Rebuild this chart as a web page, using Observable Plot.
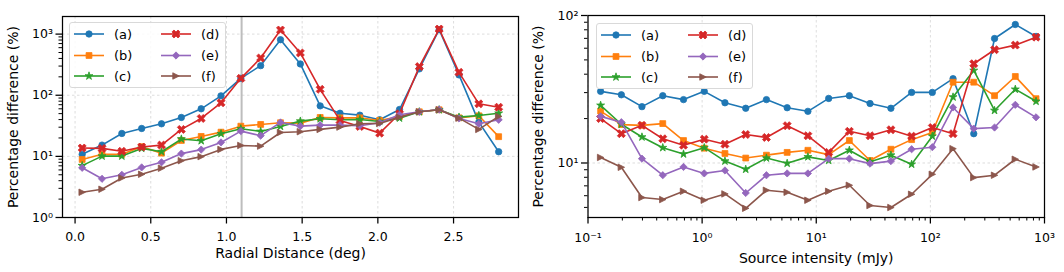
<!DOCTYPE html>
<html><head><meta charset="utf-8">
<script src="https://cdn.jsdelivr.net/npm/d3@7"></script>
<script src="https://cdn.jsdelivr.net/npm/@observablehq/plot@0.6"></script>
<style>
html,body{margin:0;padding:0;background:#fff;}
#wrap{position:relative;width:1064px;height:272px;font-family:"DejaVu Sans",sans-serif;overflow:hidden;}
.panel{position:absolute;top:0;}
.legend{position:absolute;border:1px solid #d9d9d9;border-radius:3px;background:rgba(255,255,255,0.85);box-sizing:border-box;}
.legend svg{display:block;}
</style></head><body><div id="wrap"></div>
<script>
// ---------- data ----------
const seriesLabels = ["(a)","(b)","(c)","(d)","(e)","(f)"];
const seriesColors = ["#1f77b4","#ff7f0e","#2ca02c","#d62728","#9467bd","#8c564b"];

// left panel: radial distance (deg)
const radialDistance = [0.047,0.178,0.309,0.440,0.571,0.702,0.833,0.964,1.095,1.226,1.357,1.488,1.619,1.750,1.881,2.012,2.143,2.274,2.405,2.536,2.667,2.798];
const radA = [10.8,15.3,23.7,28.6,34.1,43.3,60,97.8,189,305,810,325,67,50.8,47.2,39.7,58.4,270,1180,215,36.3,11.9];
const radB = [8.9,10.8,10.8,14.4,11.3,18.2,21.2,24.9,31.2,33.3,35.5,35,43.3,42.7,42.7,38.7,45,53.6,57.8,42.7,46.1,21];
const radC = [7.05,10.1,10.1,13.5,11.9,19.2,18,23.5,28.3,25.6,30.9,37.7,41.2,39.7,40,37.2,42.2,53.6,57.8,43.8,46.6,50.8];
const radD = [13.7,13.5,12.1,14.2,15.3,27.6,41.7,75.2,189,407,1167,492,125,38.7,30.9,24,49.7,294,1211,237,72.4,63.7];
const radE = [6.5,4.3,5.0,6.6,8.0,11.1,12.9,16.9,25.9,21.8,35.9,31.2,32.4,32.4,31.7,35.5,47.9,53.6,58.4,41.7,34.1,39.7];
const radF = [2.59,2.9,4.43,5.1,6.4,8.5,9.9,13,15.1,14.7,24.6,25.3,27.6,30.1,34.1,34.6,43.8,53.6,57.8,42.2,27.6,45];
const radialMarker = [1.1];

// right panel: source intensity (mJy)
const intensity = [0.129,0.196,0.297,0.452,0.687,1.044,1.585,2.41,3.66,5.56,8.45,12.85,19.5,29.6,45.1,68.5,104,158,240,365,555,843];
const intA = [30.6,29.0,24.1,28.6,26.9,30.6,25.6,23.5,26.9,23.7,22.4,27.4,28.6,25.3,23.5,30.1,30.1,37.3,15.8,69.8,86.9,72.1];
const intB = [22.5,18.2,18.0,18.5,14.2,12.6,11.6,10.8,11.3,11.8,12.2,11.4,14.2,10.4,12.4,14.4,16.1,35.3,35.3,28.6,38.6,27.3];
const intC = [24.6,18.3,15.0,12.7,11.5,12.7,10.3,9.06,10.8,9.95,11.0,10.4,12.2,10.2,11.3,9.8,15.2,28.0,42.4,22.7,31.6,26.2];
const intD = [20.0,15.8,18.0,14.6,13.2,14.5,13.4,15.6,14.9,17.9,15.3,11.8,16.4,15.3,16.8,15.2,17.4,15.8,47.1,58.6,63.0,71.3];
const intE = [20.7,18.9,10.7,8.26,9.4,8.5,8.9,6.26,8.26,8.5,8.5,10.7,10.7,9.9,10.3,12.4,12.8,23.8,17.1,17.4,24.8,20.4];
const intF = [10.9,9.35,5.83,5.65,6.43,5.59,6.17,4.93,6.53,6.33,5.59,6.43,7.06,5.15,4.99,6.14,8.38,12.5,7.96,8.26,10.6,9.4];

// tick values
const leftXTicks = [0,0.5,1,1.5,2,2.5];
const leftYTicks = [1,10,100,1000];
const rightXTicks = [0.1,1,10,100,1000];
const rightYTicks = [10,100];

// ---------- helpers ----------
function minorTicks(lo, hi) {
  const out = [];
  for (let e = Math.floor(Math.log10(lo)); e <= Math.ceil(Math.log10(hi)); e++)
    for (let m = 2; m <= 9; m++) { const v = m * Math.pow(10, e); if (v > lo && v < hi) out.push(v); }
  return out;
}
const supMap = {"-":"⁻","0":"⁰","1":"¹","2":"²","3":"³","4":"⁴","5":"⁵","6":"⁶","7":"⁷","8":"⁸","9":"⁹"};
const powFmt = d => "10" + String(Math.round(Math.log10(d))).split("").map(c => supMap[c]).join("");

// custom marker symbols
const symX = {draw(ctx, size) {
  const r = Math.sqrt(size / Math.PI), b = 1.3 * r, a = 0.42 * r;
  const pts = [[-a,-b],[a,-b],[a,-a],[b,-a],[b,a],[a,a],[a,b],[-a,b],[-a,a],[-b,a],[-b,-a],[-a,-a]]
    .map(([x, y]) => [(x - y) / Math.SQRT2, (x + y) / Math.SQRT2]);
  ctx.moveTo(pts[0][0], pts[0][1]); for (let i = 1; i < pts.length; i++) ctx.lineTo(pts[i][0], pts[i][1]); ctx.closePath();
}};
const symDiamond = {draw(ctx, size) {
  const d = 1.1 * Math.sqrt(size / Math.PI);
  ctx.moveTo(0, -d); ctx.lineTo(d, 0); ctx.lineTo(0, d); ctx.lineTo(-d, 0); ctx.closePath();
}};
const symTriRight = {draw(ctx, size) {
  const h = 0.95 * Math.sqrt(size / Math.PI);
  ctx.moveTo(h, 0); ctx.lineTo(-h, -h); ctx.lineTo(-h, h); ctx.closePath();
}};
const plotSymbols = ["circle", "square", "star", symX, symDiamond, symTriRight];
const d3Symbols = [d3.symbolCircle, d3.symbolSquare, d3.symbolStar, symX, symDiamond, symTriRight];
const symbolR = [3.2, 3.3, 2.5, 3.3, 3.3, 3.4];

function seriesMarks(xs, ys) {
  return ys.flatMap((vals, i) => {
    const data = vals.map((v, k) => ({x: xs[k], y: v}));
    return [
      Plot.line(data, {x: "x", y: "y", stroke: seriesColors[i], strokeWidth: 1.6}),
      Plot.dot(data, {x: "x", y: "y", symbol: plotSymbols[i], r: symbolR[i], fill: seriesColors[i], stroke: seriesColors[i], strokeWidth: 0.8})
    ];
  });
}

const gridStyle = {stroke: "#b0b0b0", strokeOpacity: 0.55, strokeDasharray: "2.5,2.5", strokeWidth: 0.8};
const fontStyle = {fontFamily: "DejaVu Sans", fontSize: "12.5px", background: "white", overflow: "visible", color: "black"};
const yLabelOpts = {text: d => d, frameAnchor: "left", rotate: -90, fontSize: 14, textAnchor: "middle", lineAnchor: "middle"};
const xLabelOpts = {text: d => d, frameAnchor: "bottom", fontSize: 14, textAnchor: "middle", lineAnchor: "middle"};

// ---------- left panel ----------
const leftYDomain = [1, 1941];
const left = Plot.plot({
  width: 528, height: 272,
  marginLeft: 62, marginRight: 10, marginTop: 16, marginBottom: 55,
  style: fontStyle,
  x: {domain: [-0.083, 2.929], label: null},
  y: {type: "log", domain: leftYDomain, label: null},
  marks: [
    Plot.gridX({ticks: leftXTicks, ...gridStyle}),
    Plot.gridY({ticks: leftYTicks, ...gridStyle}),
    Plot.ruleX(radialMarker, {stroke: "#bdbdbd", strokeWidth: 2}),
    ...seriesMarks(radialDistance, [radA, radB, radC, radD, radE, radF]),
    Plot.axisX({ticks: leftXTicks, tickFormat: d3.format(".1f"), tickSize: 6.5, tickPadding: 8, strokeWidth: 1.25, label: null, fontSize: 12.5}),
    Plot.axisY({ticks: leftYTicks, tickFormat: powFmt, tickSize: 6.5, tickPadding: 3, strokeWidth: 1.25, label: null, fontSize: 12.5}),
    Plot.axisY({ticks: minorTicks(leftYDomain[0], leftYDomain[1]), tickFormat: () => "", tickSize: 3.5, strokeWidth: 1, label: null}),
    Plot.text(["Radial Distance (deg)"], {...xLabelOpts, dy: 36}),
    Plot.text(["Percentage difference (%)"], {...yLabelOpts, dx: -49.3}),
    Plot.frame({stroke: "black", strokeWidth: 1.25})
  ]
});

// ---------- right panel ----------
const rightXDomain = [0.1, 1000];
const rightYDomain = [4.27, 100];
const right = Plot.plot({
  width: 536, height: 272,
  marginLeft: 59.5, marginRight: 20, marginTop: 15, marginBottom: 55,
  style: fontStyle,
  x: {type: "log", domain: rightXDomain, label: null},
  y: {type: "log", domain: rightYDomain, label: null},
  marks: [
    Plot.gridX({ticks: rightXTicks, ...gridStyle}),
    Plot.gridY({ticks: rightYTicks, ...gridStyle}),
    ...seriesMarks(intensity, [intA, intB, intC, intD, intE, intF]),
    Plot.axisX({ticks: rightXTicks, tickFormat: powFmt, tickSize: 6.5, tickPadding: 9, strokeWidth: 1.25, label: null, fontSize: 12.5}),
    Plot.axisX({ticks: minorTicks(rightXDomain[0], rightXDomain[1]), tickFormat: () => "", tickSize: 3.5, strokeWidth: 1, label: null}),
    Plot.axisY({ticks: rightYTicks, tickFormat: powFmt, tickSize: 6.5, tickPadding: 3, strokeWidth: 1.25, label: null, fontSize: 12.5}),
    Plot.axisY({ticks: minorTicks(rightYDomain[0], rightYDomain[1]), tickFormat: () => "", tickSize: 3.5, strokeWidth: 1, label: null}),
    Plot.text(["Source intensity (mJy)"], {...xLabelOpts, dy: 40.8}),
    Plot.text(["Percentage difference (%)"], {...yLabelOpts, dx: -49.8}),
    Plot.frame({stroke: "black", strokeWidth: 1.25})
  ]
});

const wrap = document.getElementById("wrap");
left.classList.add("panel"); left.style.left = "0px";
right.classList.add("panel"); right.style.left = "528px";
wrap.appendChild(left); wrap.appendChild(right);

// ---------- legends ----------
function addLegend(x, y) {
  const W = 157, H = 66;
  const div = document.createElement("div");
  div.className = "legend";
  Object.assign(div.style, {left: x + "px", top: y + "px", width: W + "px", height: H + "px"});
  const svg = d3.create("svg").attr("width", W - 2).attr("height", H - 2)
    .style("font-family", "DejaVu Sans").style("font-size", "13px");
  const rowsY = [11, 32.5, 53];
  seriesLabels.forEach((lab, i) => {
    const col = Math.floor(i / 3), row = i % 3;
    const x0 = col ? 91 : 4, yy = rowsY[row];
    const g = svg.append("g");
    g.append("line").attr("x1", x0).attr("x2", x0 + 30).attr("y1", yy).attr("y2", yy)
      .attr("stroke", seriesColors[i]).attr("stroke-width", 1.6);
    g.append("path").attr("transform", `translate(${x0 + 15},${yy})`)
      .attr("d", d3.symbol(d3Symbols[i], symbolR[i] * symbolR[i] * Math.PI)())
      .attr("fill", seriesColors[i]).attr("stroke", seriesColors[i]).attr("stroke-width", 0.8);
    g.append("text").attr("x", x0 + 40).attr("y", yy).attr("dy", "0.35em").attr("fill", "black").text(lab);
  });
  div.appendChild(svg.node());
  wrap.appendChild(div);
}
addLegend(69, 22);
addLegend(596, 22.5);
</script>
</body></html>
